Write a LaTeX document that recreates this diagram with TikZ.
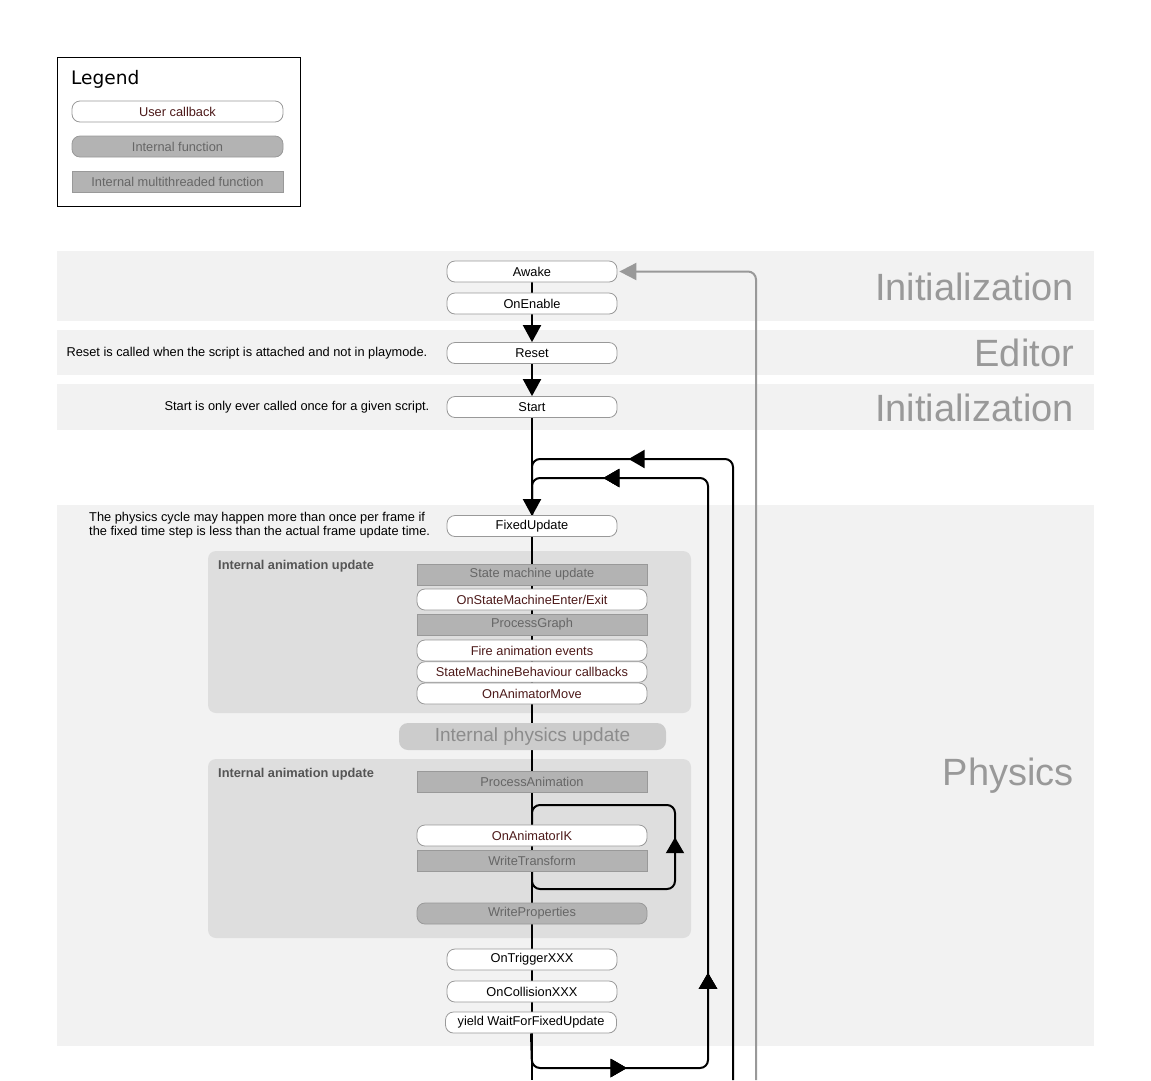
\documentclass[tikz,border=0pt]{standalone}
\usepackage{fontspec}
\setmainfont{Liberation Sans}
\newfontfamily\legfont{DejaVu Sans}
\usetikzlibrary{arrows.meta,decorations.markings}
\pgfdeclarelayer{bands}
\pgfdeclarelayer{lines}
\pgfsetlayers{bands,lines,main}
\definecolor{bandgray}{HTML}{F2F2F2}
\definecolor{groupgray}{HTML}{DEDEDE}
\definecolor{intgray}{HTML}{B3B3B3}
\definecolor{bordgray}{HTML}{999999}
\definecolor{usertext}{HTML}{4D1A1A}
\definecolor{inttext}{HTML}{666666}
\definecolor{labgray}{HTML}{999999}
\definecolor{physgray}{HTML}{CCCCCC}
\definecolor{phystext}{HTML}{8C8C8C}
\definecolor{titlegray}{HTML}{555555}
\tikzset{
  boxbase/.style={minimum height=21pt, inner sep=0pt, font=\fontsize{12.8}{15}\selectfont, draw=bordgray, line width=0.8pt},
  cb/.style={boxbase, rounded corners=8pt, fill=white, text=black, minimum width=170pt},
  ucb/.style={boxbase, rounded corners=8pt, fill=white, text=usertext, minimum width=230pt},
  mtf/.style={boxbase, fill=intgray, text=inttext, minimum width=230pt},
  inf/.style={boxbase, rounded corners=8pt, fill=intgray, text=inttext, minimum width=230pt},
  bandlabel/.style={anchor=base east, inner sep=0pt, text=labgray, font=\fontsize{38}{40}\selectfont},
  note/.style={inner sep=0pt, font=\fontsize{12.8}{14}\selectfont, text=black},
  grouptitle/.style={anchor=base west, inner sep=0pt, font=\bfseries\fontsize{12.8}{15}\selectfont, text=titlegray},
  flow/.style={line width=2pt, black},
  grayflow/.style={line width=2pt, labgray},
  tipend/.style={-{Triangle[width=18pt,length=17pt]}},
  bigtip/.style={postaction={decorate}, decoration={markings, mark=at position #1 with {\arrow{Triangle[width=18pt,length=16pt]}}}},
}
\begin{document}
\begin{tikzpicture}[x=1pt,y=-1pt]
\useasboundingbox (0,0) rectangle (1151,1080);

% ---------- Legend ----------
\node[draw=black, line width=0.8pt, minimum width=243pt, minimum height=149pt, inner sep=0pt, anchor=north west] (legend) at (57,57) {};
\node[anchor=base west, inner sep=0pt, font=\legfont\fontsize{18.6}{20}\selectfont] (legtitle) at (71,84) {Legend};
\node[ucb, minimum width=211pt] (lguser) at (177.5,111.5) {User callback};
\node[inf, minimum width=211pt] (lgint) at (177.5,146.5) {Internal function};
\node[mtf, minimum width=211pt] (lgmt) at (177.5,181.5) {Internal multithreaded function};

% ---------- Bands ----------
\begin{pgfonlayer}{bands}
  \fill[bandgray] (57,251) rectangle (1094,321);
  \fill[bandgray] (57,330) rectangle (1094,375);
  \fill[bandgray] (57,384) rectangle (1094,430);
  \fill[bandgray] (57,505) rectangle (1094,1046);
  \fill[groupgray, rounded corners=8pt] (208,551) rectangle (691,713);
  \fill[groupgray, rounded corners=8pt] (208,759) rectangle (691,938);
\end{pgfonlayer}

\node[bandlabel] (lblinit1) at (1074,300.5) {Initialization};
\node[bandlabel] (lbleditor) at (1074,366) {Editor};
\node[bandlabel] (lblinit2) at (1074,421) {Initialization};
\node[bandlabel] (lblphys) at (1074,785.5) {Physics};

% ---------- Notes ----------
\node[note, anchor=east] (notereset) at (427.5,353.5) {Reset is called when the script is attached and not in playmode.};
\node[note, anchor=east] (notestart) at (429.5,407.5) {Start is only ever called once for a given script.};
\node[note, anchor=west, align=left] (notephys) at (89,525) {The physics cycle may happen more than once per frame if\\the fixed time step is less than the actual frame update time.};

\node[grouptitle] (g1title) at (218,569.5) {Internal animation update};
\node[grouptitle] (g2title) at (218,777.5) {Internal animation update};

% ---------- Flow nodes ----------
\node[cb] (awake) at (532,271.5) {Awake};
\node[cb] (onenable) at (532,303.5) {OnEnable};
\node[cb] (reset) at (532,353) {Reset};
\node[cb] (start) at (532,407) {Start};
\node[cb] (fixed) at (532,526) {FixedUpdate};

\node[mtf] (smu) at (532,574.5) {State machine update};
\node[ucb] (osm) at (532,599.5) {OnStateMachineEnter/Exit};
\node[mtf] (pg) at (532,624.5) {ProcessGraph};
\node[ucb] (fae) at (532,650.5) {Fire animation events};
\node[ucb, minimum height=20.5pt] (smb) at (532,672) {StateMachineBehaviour callbacks};
\node[ucb] (oam) at (532,693.5) {OnAnimatorMove};

\node[minimum width=267pt, minimum height=27pt, inner sep=0pt, rounded corners=9pt, fill=physgray, text=phystext, font=\fontsize{19}{21}\selectfont] (ipu) at (532.5,736.5) {Internal physics update};

\node[mtf] (pa) at (532,782) {ProcessAnimation};
\node[ucb] (oik) at (532,835.5) {OnAnimatorIK};
\node[mtf] (wt) at (532,861) {WriteTransform};
\node[inf] (wp) at (532,913.5) {WriteProperties};

\node[cb] (trig) at (532,959.5) {OnTriggerXXX};
\node[cb] (coll) at (532,991.5) {OnCollisionXXX};
\node[cb, minimum width=171pt] (yield) at (531,1022.5) {yield WaitForFixedUpdate};

\coordinate (bottom) at (532,1080);
\coordinate (outerB) at (733,1080);
\coordinate (grayB) at (756,1080);

% ---------- Connectors ----------
\begin{pgfonlayer}{lines}
  \draw[flow] (awake.south) -- (onenable.north);
  \draw[flow, tipend] (onenable.south) -- (reset.north);
  \draw[flow, tipend] (reset.south) -- (start.north);
  \draw[flow, tipend] (start.south) -- ([yshift=-1pt]fixed.north);
  \draw[flow] (fixed.south) -- (bottom);
  % outer frame loop
  \draw[flow, rounded corners=8pt, bigtip=722pt] (outerB) -- (733,459) -- (532,459) -- (fixed.north);
  % fixed update loop
  \draw[flow, rounded corners=8pt, bigtip=126pt, bigtip=299pt, bigtip=895pt]
    (yield.south) -- (532,1068) -- (708,1068) -- (708,478) -- (532,478) -- (fixed.north);
  % IK loop
  \draw[flow, rounded corners=8pt, bigtip=205pt] (wt.south) -- (532,889) -- (675,889) -- (675,805) -- (532,805) -- (oik.north);
  % gray return to Awake
  \draw[grayflow, rounded corners=8pt, -{Triangle[width=17pt,length=17pt]}, shorten >=2pt] (grayB) |- (awake.east);
\end{pgfonlayer}
\end{tikzpicture}
\end{document}
